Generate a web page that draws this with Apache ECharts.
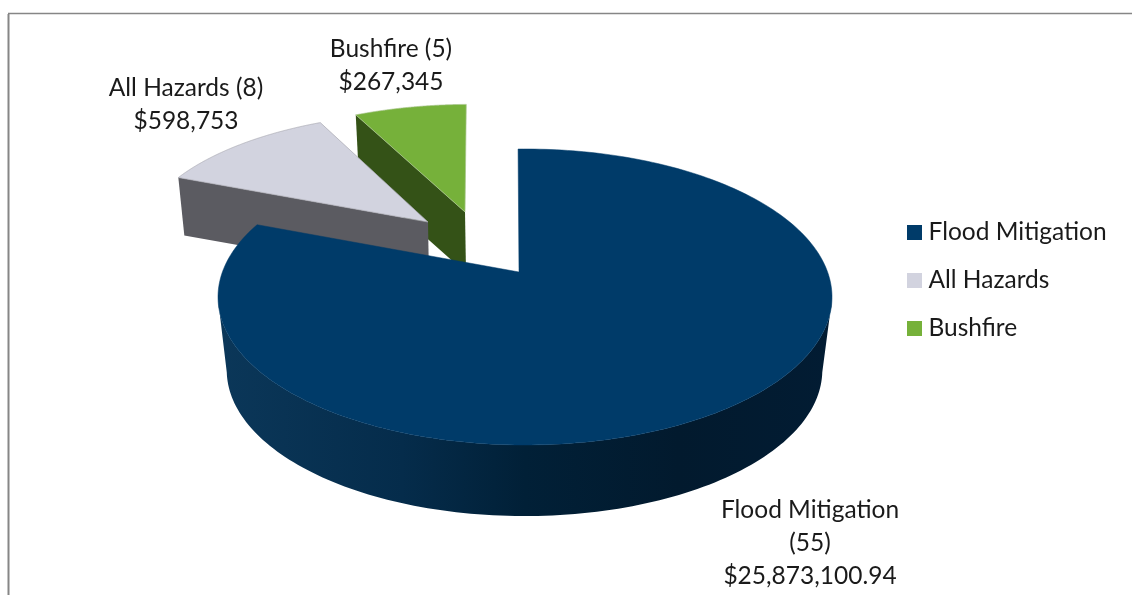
<!DOCTYPE html>
<html>
<head>
<meta charset="utf-8">
<style>html,body{margin:0;padding:0;background:#fff}#c{width:1132px;height:595px}</style>
<script src="https://cdn.jsdelivr.net/npm/echarts@6/dist/echarts.min.js"></script>
</head>
<body>
<div id="c"></div>
<script>
// data
var categories = ['Flood Mitigation', 'All Hazards', 'Bushfire'];
var projectCounts = [55, 8, 5];
var fundingLabels = ['$25,873,100.94', '$598,753', '$267,345'];

// styles
var FONT = 'Lato';
var FS = 24.5;
var TOP = ['#003b69', '#d2d3df', '#76b13a'];
var total = projectCounts.reduce(function (a, b) { return a + b; }, 0);

// projected disc of the whole pie
var C = { x: 525, y: 297, a: 307, b: 148 };
var APEX = { x: 519, y: 272 };
var c = { x: (APEX.x - C.x) / C.a, y: (APEX.y - C.y) / C.b };
var ROT = -0.3;

// placement of every exploded slice (apex, scale, view rotation, then bottom-face offset and scale)
var place = [
  { ax: 519, ay: 272, sx: 1, sy: 1, rot: 0, bdx: -0.3, bdy: 73.5, bsx: 0.97, bsy: 0.986, z: 3 },
  { ax: 428, ay: 222, sx: 0.965, sy: 0.89, rot: 1.3, bdx: 1, bdy: 57, bsx: 0.98, bsy: 0.98, z: 2 },
  { ax: 465, ay: 212, sx: 0.95, sy: 0.875, rot: 0.5, bdx: 1, bdy: 61, bsx: 0.98, bsy: 0.98, z: 1 }
];
var labelPos = [
  { x: 810, y: 543 },
  { x: 186, y: 105 },
  { x: 391, y: 65.5 }
];
var labelTexts = [
  categories[0] + '\n(' + projectCounts[0] + ')\n' + fundingLabels[0],
  categories[1] + ' (' + projectCounts[1] + ')\n' + fundingLabels[1],
  categories[2] + ' (' + projectCounts[2] + ')\n' + fundingLabels[2]
];

function wallFill(i) {
  if (i === 0) {
    return new echarts.graphic.LinearGradient(0, 0, 1, 0, [
      { offset: 0, color: '#0b3759' },
      { offset: 0.3, color: '#052c4b' },
      { offset: 0.5, color: '#012037' },
      { offset: 0.75, color: '#021a2e' },
      { offset: 1, color: '#021c33' }
    ]);
  }
  return i === 1 ? '#5b5b61' : '#345217';
}

// perspective view of a point on the pie's rim: the pie centre is carried to c,
// the rim stays on the unit circle
function disc(deg) {
  var t = (deg + ROT) * Math.PI / 180;
  var px = Math.sin(t), py = -Math.cos(t);
  var r2 = c.x * c.x + c.y * c.y;
  var d = px * c.x + py * c.y;
  var parX = d / r2 * c.x, parY = d / r2 * c.y;
  var k = Math.sqrt(1 - r2);
  var den = 1 + d;
  return {
    x: (parX + c.x + k * (px - parX)) / den,
    y: (parY + c.y + k * (py - parY)) / den
  };
}

function toTop(p, w) {
  var X = C.x + C.a * w.x, Y = C.y + C.b * w.y;
  return [p.ax + p.sx * (X - APEX.x), p.ay + p.sy * (Y - APEX.y)];
}
function toBottom(p, q) {
  return [p.ax + p.bdx + p.bsx * (q[0] - p.ax), p.ay + p.bdy + p.bsy * (q[1] - p.ay)];
}

function renderSlice(i) {
  return function (params, api) {
    var value = api.value(0);
    var before = 0;
    for (var k = 0; k < i; k++) before += projectCounts[k];
    var a0 = before / total * 360, a1 = (before + value) / total * 360;
    var p = place[i];
    var apexTop = [p.ax, p.ay];
    var apexBot = toBottom(p, apexTop);
    var arc = [], frontTop = [], frontBot = [], N = 240;
    for (var n = 0; n <= N; n++) {
      var w = disc(a0 + (a1 - a0) * n / N + p.rot);
      var q = toTop(p, w);
      arc.push(q);
      if (w.y >= 0) { frontTop.push(q); frontBot.push(toBottom(p, q)); }
    }
    var first = arc[0];
    var fill = wallFill(i);
    var ch = [];
    if (i > 0) {
      ch.push({ type: 'polygon', shape: { points: [apexTop, first, toBottom(p, first), apexBot] }, style: { fill: fill } });
    }
    if (frontTop.length) {
      ch.push({ type: 'polygon', shape: { points: frontTop.concat(frontBot.slice().reverse()) }, style: { fill: fill } });
    }
    ch.push({
      type: 'polygon',
      shape: { points: [apexTop].concat(arc) },
      style: { fill: TOP[i], stroke: i === 1 ? '#a9a9b2' : (i === 2 ? '#a8c48c' : TOP[i]), lineWidth: i === 0 ? 0.5 : 0.7 }
    });
    ch.push({
      type: 'text',
      x: labelPos[i].x, y: labelPos[i].y,
      style: {
        text: labelTexts[i], fill: '#1a1a1a', align: 'center', verticalAlign: 'middle',
        font: FS + 'px ' + FONT, lineHeight: 33
      }
    });
    return { type: 'group', children: ch };
  };
}

var series = categories.map(function (name, i) {
  return {
    type: 'custom',
    name: name,
    coordinateSystem: 'none',
    z: place[i].z,
    silent: true,
    itemStyle: { color: TOP[i] },
    data: [[projectCounts[i]]],
    renderItem: renderSlice(i)
  };
});

var chart = echarts.init(document.getElementById('c'), null, { renderer: 'canvas' });
chart.setOption({
  animation: false,
  backgroundColor: '#fff',
  legend: {
    orient: 'vertical', left: 907, top: 220,
    itemWidth: 15, itemHeight: 15, itemGap: 23, icon: 'rect',
    padding: 0, selectedMode: false,
    data: categories.map(function (name, i) { return { name: name, itemStyle: { color: TOP[i] } }; }),
    textStyle: { fontFamily: FONT, fontSize: FS, color: '#1a1a1a', padding: [0, 0, 0, 1.5], lineHeight: 24 }
  },
  graphic: [
    { type: 'line', silent: true, shape: { x1: 8.5, y1: 14, x2: 8.5, y2: 595 }, style: { stroke: '#868686', lineWidth: 2 } },
    { type: 'line', silent: true, shape: { x1: 8, y1: 13.5, x2: 1132, y2: 13.5 }, style: { stroke: '#868686', lineWidth: 1.5 } }
  ],
  series: series
});
</script>
</body>
</html>
